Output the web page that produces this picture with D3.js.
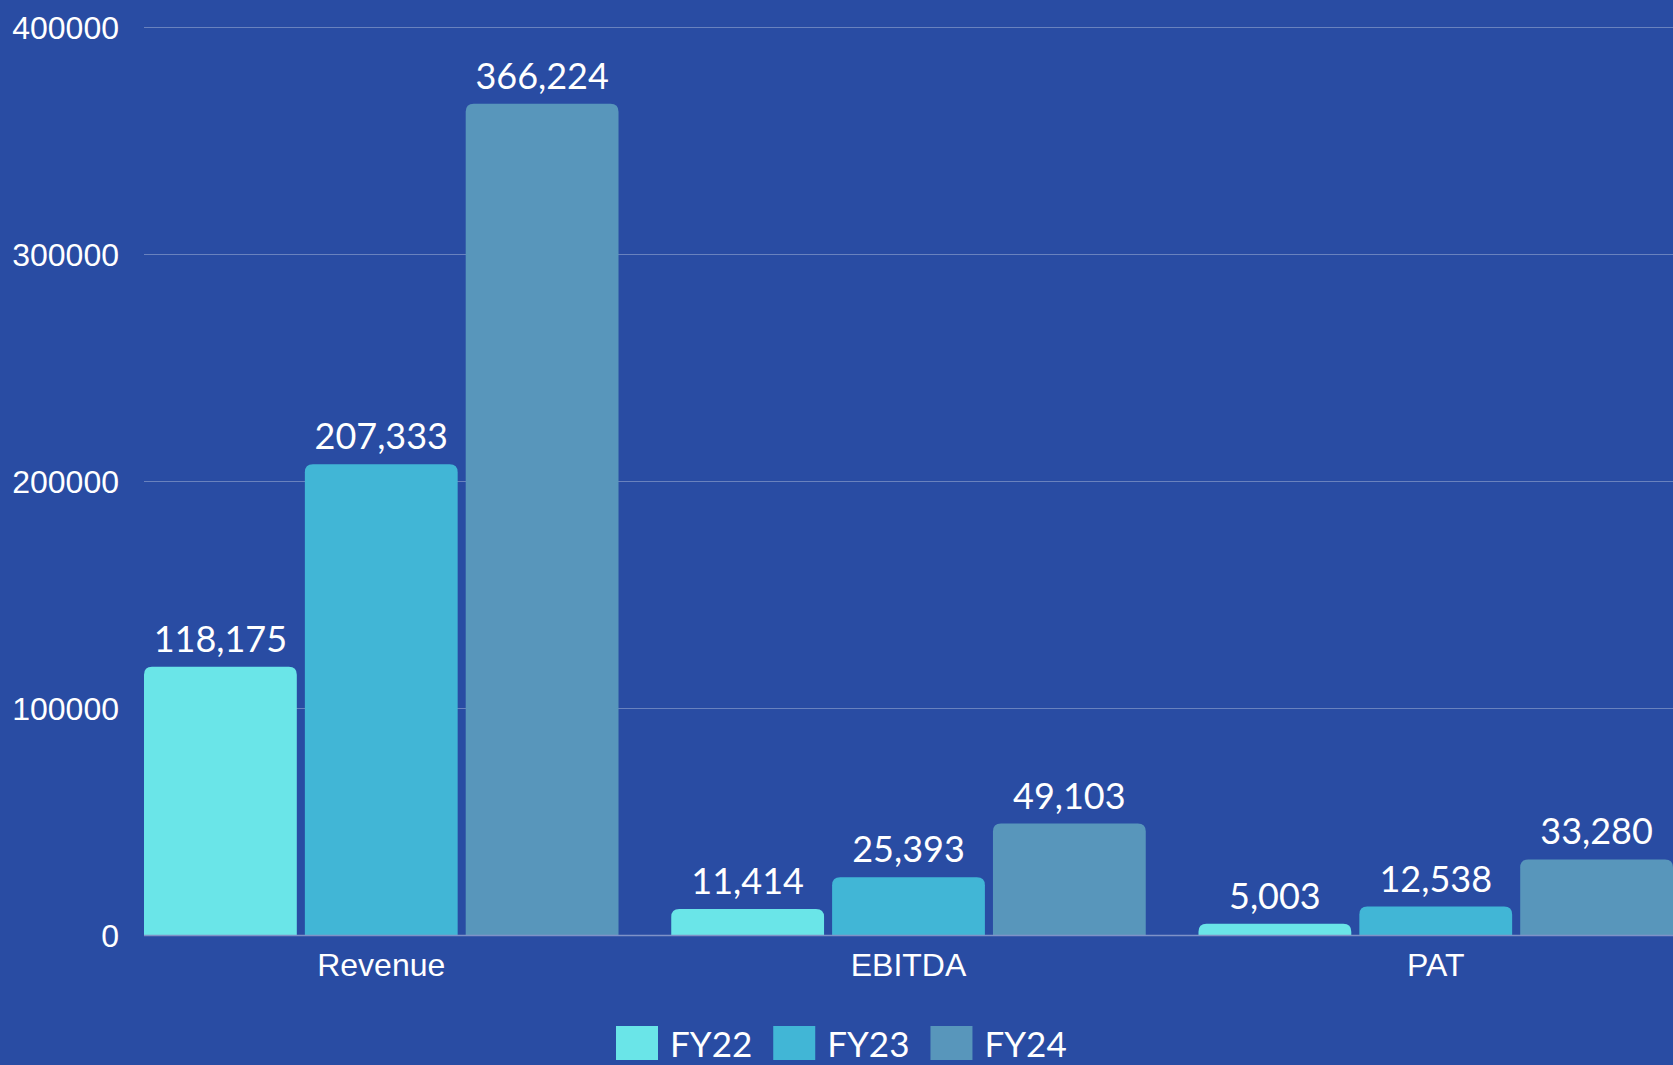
<!DOCTYPE html>
<html>
<head>
<meta charset="utf-8">
<script src="https://cdn.jsdelivr.net/npm/d3@7"></script>
<style>
	body { margin: 0; background: #294ca3; }
	svg { display: block; }
</style>
</head>
<body>
<div id="chart"></div>
<script>
const categories = ["Revenue", "EBITDA", "PAT"]
const seriesNames = ["FY22", "FY23", "FY24"]
const fy22 = [118175, 11414, 5003]
const fy23 = [207333, 25393, 12538]
const fy24 = [366224, 49103, 33280]
const yTicks = [0, 100000, 200000, 300000, 400000]
const colors = ["#6ae5e8", "#41b6d6", "#5896bb"]

const w = 1673, h = 1065
const margin = {top: 27, right: 0, bottom: 130, left: 144}

//build rows for the grouped bars
const seriesVals = [fy22, fy23, fy24]
const rows = categories.map((c, i) => ({
	cat: c,
	vals: seriesNames.map((s, j) => ({series: s, value: seriesVals[j][i]}))
}))

let svg = d3.select('#chart').append('svg')
	.attr('width', w)
	.attr('height', h)

svg.append('rect').attr('width', w).attr('height', h).attr('fill', '#294ca3')

let x0 = d3.scaleBand()
	.domain(categories)
	.range([margin.left, w - margin.right])
	.paddingInner(0.1)
	.paddingOuter(0)

let x1 = d3.scaleBand()
	.domain(seriesNames)
	.range([0, x0.bandwidth()])
	.paddingInner(0.05)

let y = d3.scaleLinear()
	.domain([0, 400000])
	.range([h - margin.bottom, margin.top])

let color = d3.scaleOrdinal().domain(seriesNames).range(colors)

//gridlines
svg.append('g')
	.selectAll('line')
	.data(yTicks.filter(t => t > 0))
	.join('line')
	.attr('x1', margin.left)
	.attr('x2', w)
	.attr('y1', d => y(d) + 0.5)
	.attr('y2', d => y(d) + 0.5)
	.attr('stroke', 'rgba(255,255,255,0.3)')
	.attr('stroke-width', 1)

//y axis
let yAxis = svg.append('g')
	.attr('transform', `translate(${margin.left - 25},0)`)
	.call(d3.axisLeft(y).tickValues(yTicks).tickFormat(d3.format('d')).tickSize(0).tickPadding(0))
yAxis.select('.domain').remove()
yAxis.selectAll('text')
	.attr('fill', '#fff')
	.attr('font-family', '"Liberation Sans", Arial, sans-serif')
	.attr('font-size', 32)
	.attr('dy', '0.35em')

//rounded-top bar path
const r = 8
function barPath(x, yTop, bw, yBase) {
	let hgt = yBase - yTop
	let rr = Math.min(r, hgt, bw / 2)
	return `M${x},${yBase}V${yTop + rr}Q${x},${yTop} ${x + rr},${yTop}H${x + bw - rr}Q${x + bw},${yTop} ${x + bw},${yTop + rr}V${yBase}Z`
}

let groups = svg.append('g').selectAll('g')
	.data(rows)
	.join('g')
	.attr('transform', d => `translate(${x0(d.cat)},0)`)

groups.selectAll('path')
	.data(d => d.vals)
	.join('path')
	.attr('d', d => barPath(x1(d.series), y(d.value), x1.bandwidth(), y(0)))
	.attr('fill', d => color(d.series))

groups.selectAll('text')
	.data(d => d.vals)
	.join('text')
	.attr('x', d => x1(d.series) + x1.bandwidth() / 2)
	.attr('y', d => y(d.value) - 15)
	.attr('text-anchor', 'middle')
	.attr('fill', '#fff')
	.attr('font-family', 'Lato, sans-serif')
	.attr('font-size', 36)
	.text(d => d3.format(',')(d.value))

//baseline
svg.append('line')
	.attr('x1', margin.left)
	.attr('x2', w)
	.attr('y1', y(0) + 0.5)
	.attr('y2', y(0) + 0.5)
	.attr('stroke', '#7f92c8')
	.attr('stroke-width', 1.5)

//x axis
let xAxis = svg.append('g')
	.attr('transform', `translate(0,${y(0)})`)
	.call(d3.axisBottom(x0).tickSize(0).tickPadding(18))
xAxis.select('.domain').remove()
xAxis.selectAll('text')
	.attr('fill', '#fff')
	.attr('font-family', '"Liberation Sans", Arial, sans-serif')
	.attr('font-size', 32)
	.attr('dy', '0.71em')

//legend
let legend = svg.append('g').attr('transform', `translate(0,${h - 39})`)
let lx = 616
seriesNames.forEach((s, i) => {
	let g = legend.append('g').attr('transform', `translate(${lx},0)`)
	g.append('rect').attr('x', 0).attr('y', 0).attr('width', 42).attr('height', 34).attr('fill', color(s))
	let t = g.append('text')
		.attr('x', 54)
		.attr('y', 31)
		.attr('fill', '#fff')
		.attr('font-family', 'Lato, sans-serif')
		.attr('font-size', 35)
		.text(s)
	lx += 54 + t.node().getComputedTextLength() + 21
})
</script>
</body>
</html>
